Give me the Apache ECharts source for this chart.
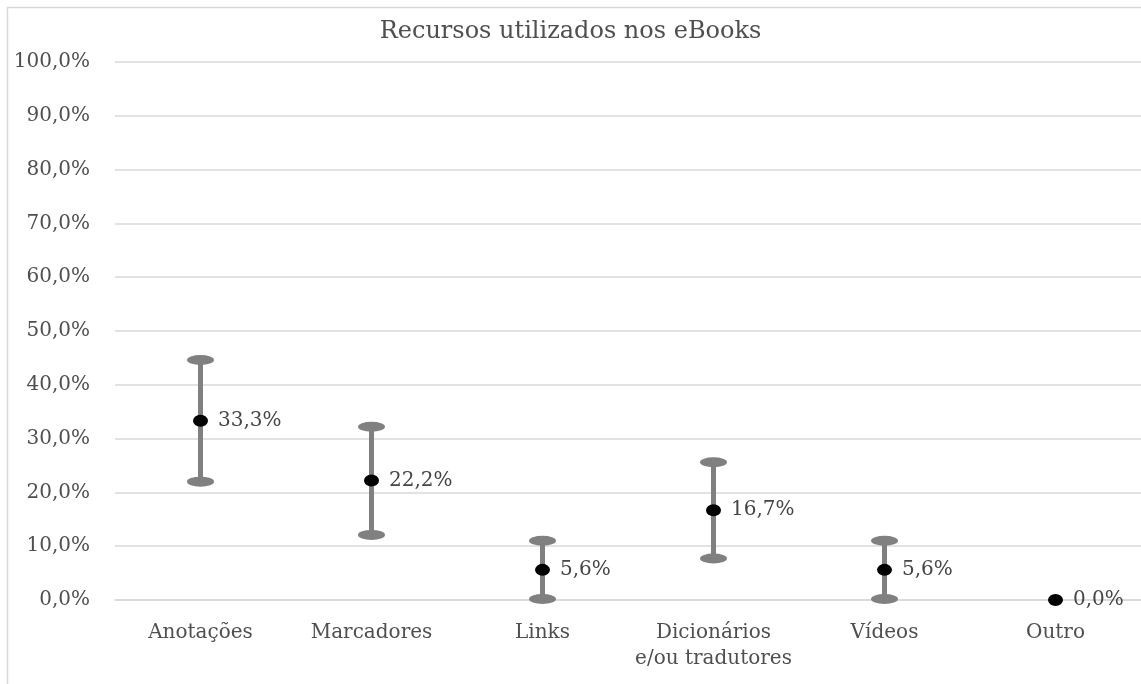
<!DOCTYPE html>
<html>
<head>
<meta charset="utf-8">
<script src="https://cdn.jsdelivr.net/npm/echarts@6/dist/echarts.min.js"></script>
<style>
  html, body { margin: 0; padding: 0; background: #ffffff; }
  #chart { width: 1141px; height: 684px; }
</style>
</head>
<body>
<div id="chart"></div>
<script>
// Categories and percentages
const categories = ['Anotações', 'Marcadores', 'Links', 'Dicionários\ne/ou tradutores', 'Vídeos', 'Outro'];
const values = [33.3, 22.2, 5.6, 16.7, 5.6, 0.0];
// Error bar bounds (percent)
const lowerBounds = [22.0, 12.1, 0.2, 7.7, 0.2, 0.0];
const upperBounds = [44.6, 32.2, 11.0, 25.6, 11.0, 0.0];

const TEXT = '#4f4f4f';
const GRID = '#d9d9d9';
const FONT = 'DejaVu Serif';

const fmtPct = v => v.toFixed(1).replace('.', ',') + '%';

const chart = echarts.init(document.getElementById('chart'), null, { renderer: 'canvas' });

const errorData = categories.map((c, i) => [i, lowerBounds[i], upperBounds[i]]);

// Flat elliptical cap centred on (x, y)
function capPath(x, y, rx, ry) {
  return 'M' + (x - rx) + ' ' + y +
    ' A' + rx + ' ' + ry + ' 0 1 0 ' + (x + rx) + ' ' + y +
    ' A' + rx + ' ' + ry + ' 0 1 0 ' + (x - rx) + ' ' + y + ' Z';
}

chart.setOption({
  backgroundColor: '#ffffff',
  animation: false,
  title: {
    text: 'Recursos utilizados nos eBooks',
    left: 'center',
    top: 15,
    textStyle: { color: TEXT, fontFamily: FONT, fontSize: 24, fontWeight: 'normal' }
  },
  graphic: [{
    type: 'rect',
    shape: { x: 7.5, y: 7.5, width: 1200, height: 800 },
    style: { fill: 'none', stroke: GRID, lineWidth: 1.5 },
    silent: true
  }],
  grid: { left: 115, right: 0, top: 62, bottom: 84, containLabel: false },
  xAxis: {
    type: 'category',
    data: categories,
    axisLine: { show: true, lineStyle: { color: GRID, width: 1.5 } },
    axisTick: { show: false },
    axisLabel: { color: TEXT, fontFamily: FONT, fontSize: 20, margin: 20, lineHeight: 26, interval: 0 },
    splitLine: { show: false }
  },
  yAxis: {
    type: 'value',
    min: 0,
    max: 100,
    interval: 10,
    axisLine: { show: false },
    axisTick: { show: false },
    axisLabel: { color: TEXT, fontFamily: FONT, fontSize: 20, margin: 25, formatter: fmtPct },
    splitLine: { lineStyle: { color: GRID, width: 1.5 } }
  },
  series: [
    {
      type: 'custom',
      name: 'erro',
      data: errorData,
      z: 2,
      renderItem: function (params, api) {
        const lo = api.value(1), hi = api.value(2);
        if (hi - lo <= 0) return null;
        const top = api.coord([api.value(0), hi]);
        const bot = api.coord([api.value(0), lo]);
        const x = top[0];
        return {
          type: 'group',
          children: [
            { type: 'line', shape: { x1: x, y1: top[1], x2: x, y2: bot[1] },
              style: { stroke: '#808080', lineWidth: 5 } },
            { type: 'path', shape: { pathData: capPath(x, top[1], 13.5, 5) },
              style: { fill: '#808080' } },
            { type: 'path', shape: { pathData: capPath(x, bot[1], 13.5, 5) },
              style: { fill: '#808080' } }
          ]
        };
      }
    },
    {
      type: 'scatter',
      name: 'valor',
      data: values,
      z: 3,
      symbol: 'circle',
      symbolSize: [15, 12],
      itemStyle: { color: '#000000', opacity: 1 },
      label: {
        show: true,
        position: 'right',
        distance: 10,
        color: '#454545',
        textBorderWidth: 0,
        opacity: 1,
        fontFamily: FONT,
        fontSize: 20,
        formatter: p => fmtPct(p.value)
      }
    }
  ]
});
</script>
</body>
</html>
